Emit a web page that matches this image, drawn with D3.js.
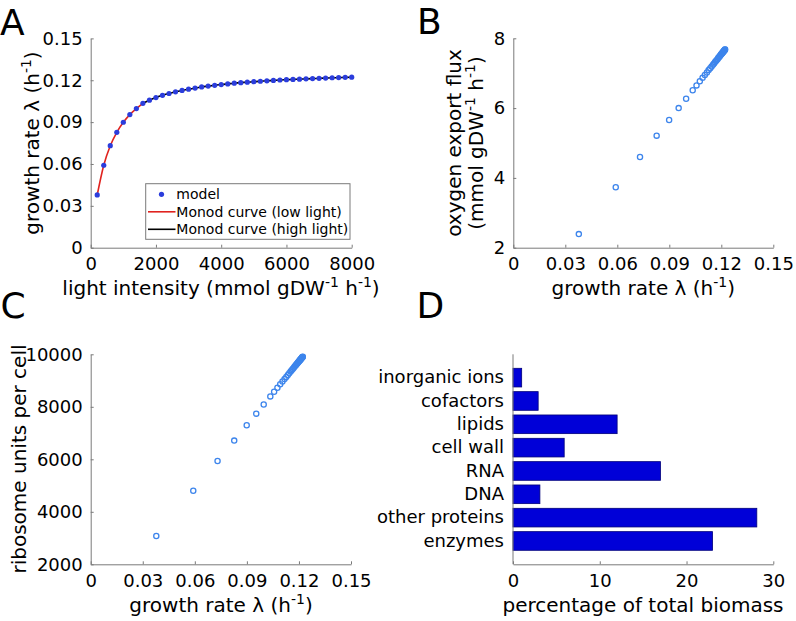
<!DOCTYPE html>
<html><head><meta charset="utf-8">
<script src="https://cdn.jsdelivr.net/npm/d3@7"></script>
<style>html,body{margin:0;padding:0;background:#fff;}svg{display:block;}</style>
</head><body>
<svg id="c" width="796" height="621"></svg>
<script>
// ---------- data ----------
const lightIntensity = [200,400,600,800,1000,1200,1400,1600,1800,2000,2200,2400,2600,2800,3000,3200,3400,3600,3800,4000,
  4200,4400,4600,4800,5000,5200,5400,5600,5800,6000,6200,6400,6600,6800,7000,7200,7400,7600,7800,8000];
const growthRate = [0.0378,0.0591,0.0731,0.0827,0.0899,0.0954,0.0997,0.1035,0.1057,0.1076,0.1092,0.1105,0.1117,0.1127,0.1136,0.1144,0.1152,0.1158,0.1164,0.1169,
  0.1174,0.1179,0.1183,0.1186,0.1190,0.1193,0.1196,0.1199,0.1202,0.1204,0.1206,0.1208,0.1210,0.1212,0.1214,0.1216,0.1218,0.1219,0.1221,0.1222];
const lowLightI = [200,400,600,800,1000,1200,1400,1600];
const lowLightCurve = [0.0378,0.0591,0.0731,0.0827,0.0899,0.0954,0.0997,0.1035];
const highLightI = [1600,1800,2000,2200,2400,2600,2800,3000,3200,3400,3600,3800,4000,4200,4400,4600,4800,5000,5200,5400,5600,5800,6000,6200,6400,6600,6800,7000,7200,7400,7600,7800,8000];
const highLightCurve = [0.1035,0.1057,0.1076,0.1092,0.1105,0.1117,0.1127,0.1136,0.1144,0.1152,0.1158,0.1164,0.1169,0.1174,0.1179,0.1183,0.1186,0.1190,0.1193,0.1196,0.1199,0.1202,0.1204,0.1206,0.1208,0.1210,0.1212,0.1214,0.1216,0.1218,0.1219,0.1221,0.1222];
const oxygenExport = [2.39,3.73,4.60,5.21,5.66,6.00,6.27,6.51,6.65,6.77,6.87,6.95,7.02,7.09,7.14,7.19,7.24,7.28,7.32,7.35,
  7.38,7.41,7.44,7.46,7.48,7.50,7.52,7.54,7.56,7.57,7.58,7.59,7.61,7.62,7.63,7.64,7.66,7.66,7.68,7.68];
const ribosomes = [3078,4802,5935,6712,7295,7740,8088,8396,8574,8728,8857,8962,9059,9140,9213,9278,9343,9391,9440,9480,
  9521,9561,9593,9618,9650,9674,9699,9723,9747,9763,9780,9796,9812,9828,9844,9861,9877,9885,9901,9909];
const biomassCategories = ["inorganic ions","cofactors","lipids","cell wall","RNA","DNA","other proteins","enzymes"];
const biomassPercent = [1.0,2.9,12.0,5.9,17.0,3.1,28.1,23.0];

const ticksA_x = [0,2000,4000,6000,8000];
const ticksA_y = [0,0.03,0.06,0.09,0.12,0.15];
const ticksGrowth = [0,0.03,0.06,0.09,0.12,0.15];
const ticksB_y = [2,4,6,8];
const ticksC_y = [2000,4000,6000,8000,10000];
const ticksD_x = [0,10,20,30];
const legendLabels = ["model","Monod curve (low light)","Monod curve (high light)"];

// ---------- style ----------
const FONT = "DejaVu Sans";
const AXC = "#7a7a7a";
const DOT = "#2b3ddc";
const RING = "#3d85ec";
const BAR = "#0000d8";

const svg = d3.select("#c");
svg.append("rect").attr("width",796).attr("height",621).attr("fill","#fff");

function styleAxis(g){
  g.attr("font-family",FONT).attr("font-size",18);
  g.select(".domain").attr("stroke",AXC).attr("stroke-width",1);
  g.selectAll(".tick line").attr("stroke",AXC);
  g.selectAll(".tick text").attr("fill","#000");
}
function fmt(v){ return String(v); }
function xAxis(scale, y, ticks){
  const g = svg.append("g").attr("transform",`translate(0,${y})`)
    .call(d3.axisBottom(scale).tickValues(ticks).tickFormat(fmt).tickSizeInner(-3).tickSizeOuter(0).tickPadding(10));
  styleAxis(g); return g;
}
function yAxis(scale, x, ticks){
  const g = svg.append("g").attr("transform",`translate(${x},0)`)
    .call(d3.axisLeft(scale).tickValues(ticks).tickFormat(fmt).tickSizeInner(-3).tickSizeOuter(0).tickPadding(8));
  styleAxis(g); return g;
}
function label(x, y, parts, rotate){
  const t = svg.append("text").attr("font-family",FONT).attr("font-size",20).attr("fill","#000")
    .attr("text-anchor","middle")
    .attr("transform", rotate ? `translate(${x},${y}) rotate(-90)` : `translate(${x},${y})`);
  let prevSup = false;
  parts.forEach(p=>{
    const s = t.append("tspan").text(p.t);
    if(p.sup){ s.attr("font-size",14).attr("dy",-8); prevSup = true; }
    else if(prevSup){ s.attr("dy",8); prevSup = false; }
  });
  return t;
}
function letter(x,y,s){
  svg.append("text").attr("x",x).attr("y",y).attr("font-family",FONT).attr("font-size",36).attr("fill","#000").text(s);
}
const growthLabel = [{t:"growth rate λ (h"},{t:"-1",sup:true},{t:")"}];

// ---------- Panel A ----------
const xA = d3.scaleLinear().domain([0,8000]).range([90.7,351.7]);
const yA = d3.scaleLinear().domain([0,0.15]).range([247.7,38.4]);
xAxis(xA, 247.7, ticksA_x);
yAxis(yA, 90.7, ticksA_y);
const lineA = d3.line().x(d=>xA(d[0])).y(d=>yA(d[1])).curve(d3.curveMonotoneX);
svg.append("path").datum(d3.zip(lowLightI,lowLightCurve)).attr("d",lineA)
  .attr("fill","none").attr("stroke","#e0231f").attr("stroke-width",1.6);
svg.append("path").datum(d3.zip(highLightI,highLightCurve)).attr("d",lineA)
  .attr("fill","none").attr("stroke","#000").attr("stroke-width",1.6);
svg.append("g").selectAll("circle").data(d3.zip(lightIntensity,growthRate)).join("circle")
  .attr("cx",d=>xA(d[0])).attr("cy",d=>yA(d[1])).attr("r",2.6).attr("fill",DOT);
label(221, 295.3, [{t:"light intensity (mmol gDW"},{t:"-1",sup:true},{t:" h"},{t:"-1",sup:true},{t:")"}], false);
label(38.5, 143, growthLabel, true);
// legend
const lg = svg.append("g");
lg.append("rect").attr("x",145.7).attr("y",183.7).attr("width",204.3).attr("height",55.6)
  .attr("fill","#fff").attr("stroke",AXC).attr("stroke-width",1);
const rowsY = [194.3,211.8,229.3];
lg.append("circle").attr("cx",161.5).attr("cy",rowsY[0]).attr("r",2.6).attr("fill",DOT);
lg.append("line").attr("x1",148).attr("x2",175.5).attr("y1",rowsY[1]).attr("y2",rowsY[1]).attr("stroke","#e0231f").attr("stroke-width",1.6);
lg.append("line").attr("x1",148).attr("x2",175.5).attr("y1",rowsY[2]).attr("y2",rowsY[2]).attr("stroke","#000").attr("stroke-width",1.6);
lg.selectAll("text.l").data(legendLabels).join("text").attr("class","l")
  .attr("x",176.3).attr("y",(d,i)=>rowsY[i]).attr("dy","0.36em")
  .attr("font-family",FONT).attr("font-size",14).attr("fill","#000").text(d=>d);

// ---------- Panel B ----------
const xB = d3.scaleLinear().domain([0,0.15]).range([513.3,773.3]);
const yB = d3.scaleLinear().domain([2,8]).range([247.7,38.3]);
xAxis(xB, 247.7, ticksGrowth);
yAxis(yB, 513.3, ticksB_y);
svg.append("g").selectAll("circle").data(d3.zip(growthRate,oxygenExport)).join("circle")
  .attr("cx",d=>xB(d[0])).attr("cy",d=>yB(d[1])).attr("r",2.6)
  .attr("fill","none").attr("stroke",RING).attr("stroke-width",1.3);
label(643.3, 295.3, growthLabel, false);
label(461, 143, [{t:"oxygen export flux"}], true);
label(483, 143, [{t:"(mmol gDW"},{t:"-1",sup:true},{t:" h"},{t:"-1",sup:true},{t:")"}], true);

// ---------- Panel C ----------
const xC = d3.scaleLinear().domain([0,0.15]).range([90.7,351]);
const yC = d3.scaleLinear().domain([2000,10000]).range([564.3,354.3]);
xAxis(xC, 564.3, ticksGrowth);
yAxis(yC, 90.7, ticksC_y);
svg.append("g").selectAll("circle").data(d3.zip(growthRate,ribosomes)).join("circle")
  .attr("cx",d=>xC(d[0])).attr("cy",d=>yC(d[1])).attr("r",2.6)
  .attr("fill","none").attr("stroke",RING).attr("stroke-width",1.3);
label(221, 612, growthLabel, false);
label(25.5, 459, [{t:"ribosome units per cell"}], true);

// ---------- Panel D ----------
const xD = d3.scaleLinear().domain([0,30]).range([513,773.3]);
const yD = d3.scaleBand().domain(biomassCategories).range([354.3,564.3]).paddingInner(0.2).paddingOuter(0.6);
svg.append("g").selectAll("rect").data(d3.zip(biomassCategories,biomassPercent)).join("rect")
  .attr("x",xD(0)).attr("y",d=>yD(d[0])).attr("width",d=>xD(d[1])-xD(0)).attr("height",yD.bandwidth())
  .attr("fill",BAR).attr("stroke","#00007a").attr("stroke-width",0.8);
xAxis(xD, 564.3, ticksD_x);
const gD = svg.append("g").attr("transform","translate(513,0)")
  .call(d3.axisLeft(yD).tickSize(0).tickPadding(9));
styleAxis(gD);
gD.select(".domain").attr("d","M0,354.3V564.3");
label(643, 611.5, [{t:"percentage of total biomass"}], false);

// ---------- Panel letters ----------
letter(0, 35, "A");
letter(417, 34.3, "B");
letter(0.5, 318, "C");
letter(416.5, 318, "D");
</script>
</body></html>
